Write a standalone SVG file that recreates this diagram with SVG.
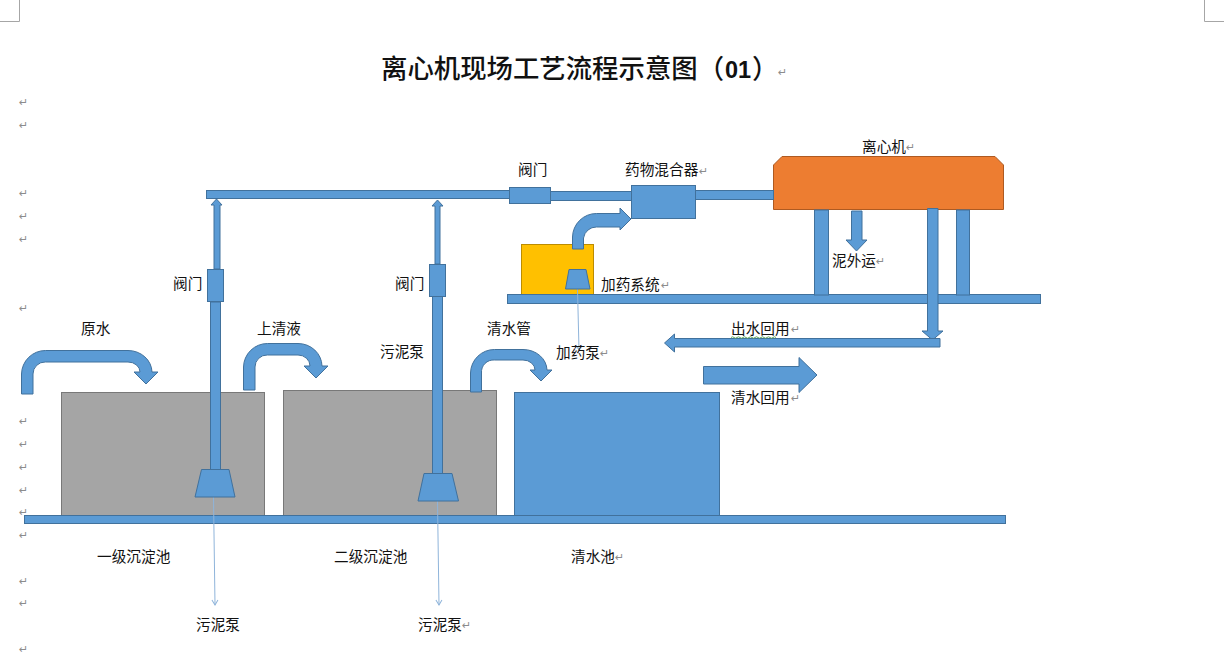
<svg xmlns="http://www.w3.org/2000/svg" width="1224" height="663" viewBox="0 0 1224 663">
<style>
text{font-family:"Noto Sans CJK SC","Liberation Sans",sans-serif;font-size:14.67px;fill:#111}
.b{fill:#5B9BD5;stroke:#41719C;stroke-width:1}
.g{fill:#A5A5A5;stroke:#787878;stroke-width:1}
.t{fill:none;stroke:#8FB4DA;stroke-width:1;marker-end:url(#v)}
.r{font-family:"DejaVu Sans",sans-serif;font-size:11px;fill:#8c8c8c}
.c{fill:none;stroke:#A6A6A6;stroke-width:1}
</style>
<defs>
<marker id="v" markerWidth="8" markerHeight="8" refX="6" refY="4" orient="auto" markerUnits="userSpaceOnUse"><path d="M1,1 L6,4 L1,7" fill="none" stroke="#8FB4DA" stroke-width="1"/></marker>
</defs>
<rect width="1224" height="663" fill="#fff"/>
<g id="page-marks">
<path class="c" d="M19.500,0V21.500H0M1204.500,0V21.500H1224"/>
<text class="r" x="19" y="106">↵</text><text class="r" x="19" y="129">↵</text><text class="r" x="19" y="197">↵</text><text class="r" x="19" y="220">↵</text><text class="r" x="19" y="243">↵</text><text class="r" x="19" y="312">↵</text><text class="r" x="19" y="425">↵</text><text class="r" x="19" y="448">↵</text><text class="r" x="19" y="471">↵</text><text class="r" x="19" y="494">↵</text><text class="r" x="19" y="516">↵</text><text class="r" x="19" y="539">↵</text><text class="r" x="19" y="585">↵</text><text class="r" x="19" y="607">↵</text><text class="r" x="19" y="653">↵</text>
</g>
<g id="title">
<text y="78" style="font-size:26.400px;font-weight:500"><tspan x="381">离心机现场工艺流程示意图（</tspan><tspan x="725" style="font-family:'Liberation Sans',sans-serif;font-weight:bold;font-size:23.500px">01</tspan><tspan x="752">）</tspan></text>
<text class="r" x="778" y="76">↵</text>
</g>
<g id="tank-1"><rect class="g" x="61.500" y="392.500" width="203" height="123"/><text x="97" y="562">一级沉淀池</text></g>
<g id="tank-2"><rect class="g" x="283.500" y="390.500" width="213" height="125"/><text x="334" y="562">二级沉淀池</text></g>
<g id="tank-3"><rect class="b" x="514.500" y="392.500" width="205" height="123"/><text x="571" y="562">清水池</text><text class="r" x="615" y="561">↵</text></g>
<g id="base"><rect class="b" x="24.500" y="515.500" width="981" height="8"/></g>
<g id="dosing-tank"><rect x="521.500" y="244.500" width="72" height="50" fill="#FFC000" stroke="#BC8C00"/><text x="601" y="290">加药系统</text><text class="r" x="661" y="289">↵</text></g>
<g id="platform"><rect class="b" x="507.500" y="294.500" width="533" height="9"/></g>
<g id="centrifuge"><path d="M782,156.500H995L1003.500,165V209.500H773.500V165Z" fill="#ED7D31" stroke="#AE5A21"/><text x="862" y="152">离心机</text><text class="r" x="906" y="151">↵</text></g>
<g id="connectors">
<rect class="b" x="206.500" y="190.500" width="303" height="8"/>
<rect class="b" x="550.500" y="191.500" width="81" height="9"/>
<rect class="b" x="695.500" y="190.500" width="78" height="9"/>
<path class="b" d="M214,269V205H211L216.500,199L222,205H220V269Z"/>
<path class="b" d="M435,264V206H432L437.500,200L443,206H440V264Z"/>
<rect class="b" x="210.500" y="302" width="10" height="168"/>
<rect class="b" x="432.500" y="296" width="10" height="178"/>
<rect class="b" x="814.500" y="210" width="14" height="85"/>
<rect class="b" x="956.500" y="210" width="13" height="85"/>
<path class="b" d="M851.500,211H862V240H867L856.500,251L846,240H851.500Z"/>
<path class="b" d="M927.500,208.500H938V331H943L932.500,340L922,331H927.500Z"/>
<path class="b" d="M940,338.500V347H674.500V352L664.500,343L674.500,334V338.500Z"/>
<path class="b" d="M703.500,366.500H799V357.500L817,375L799,392.500V384H703.500Z"/>
<path class="b" d="M21.500,394V374A24,24 0 0 1 45.500,350.500H128A24,22 0 0 1 152,372H158L146,384L134,372H140A12,10 0 0 0 128,362H45.500A12,12 0 0 0 33,374V394Z"/>
<path class="b" d="M243.500,390V367A24,24 0 0 1 267.500,343.500H298A24,23 0 0 1 322,366H328L316,378L304,366H310A12,11 0 0 0 298,355H267.500A12,12 0 0 0 255,367V390Z"/>
<path class="b" d="M470.500,392V373A24,24 0 0 1 494.500,349.500H523A24,21 0 0 1 547,370H552L541,381L530,370H535A12,10 0 0 0 523,360H494.500A12,12 0 0 0 481.500,373V392Z"/>
<path class="b" d="M572.500,249V237A24,24 0 0 1 596.500,213.500H620V208L631,219L620,230V227H596.500A13,13 0 0 0 583.500,238V249Z"/>
<path class="t" d="M213.500,497L215,605"/>
<path class="t" d="M437.500,501L439,605"/>
<path class="t" d="M577.500,289L579,350"/>
</g>
<g id="pump-1"><path class="b" d="M201.500,469.500H229L235,497H195Z"/></g>
<g id="pump-2"><path class="b" d="M424,473.500H452L458.500,501H418Z"/></g>
<g id="pump-3"><path class="b" d="M569,269.500H586L590,289H565.500Z"/></g>
<g id="valve-1"><rect class="b" x="207.500" y="269.500" width="16" height="32"/><text x="173" y="289">阀门</text></g>
<g id="valve-2"><rect class="b" x="429.500" y="264.500" width="16" height="32"/><text x="395" y="289">阀门</text></g>
<g id="valve-3"><rect class="b" x="509.500" y="187.500" width="41" height="16"/><text x="518" y="175">阀门</text></g>
<g id="mixer"><rect class="b" x="631.500" y="185.500" width="64" height="33"/><text x="625" y="175">药物混合器</text><text class="r" x="699" y="175">↵</text></g>
<g id="labels">
<text x="81" y="334">原水</text>
<text x="257" y="334">上清液</text>
<text x="380" y="357">污泥泵</text>
<text x="487" y="334">清水管</text>
<text x="556" y="358">加药泵</text><text class="r" x="600" y="357">↵</text>
<text x="832" y="266">泥外运</text><text class="r" x="876" y="265">↵</text>
<text x="731" y="334">出水回用</text><text class="r" x="791" y="333">↵</text>
<path d="M731,337.500q1.500,-1.500 3,0t3,0t3,0t3,0t3,0t3,0t3,0t3,0t3,0t3,0t3,0t3,0t3,0t3,0t3,0" fill="none" stroke="#5FA85F" stroke-width="1"/>
<text x="731" y="403">清水回用</text><text class="r" x="791" y="402">↵</text>
<text x="196" y="630">污泥泵</text>
<text x="418" y="630">污泥泵</text><text class="r" x="462" y="629">↵</text>
</g>
</svg>
